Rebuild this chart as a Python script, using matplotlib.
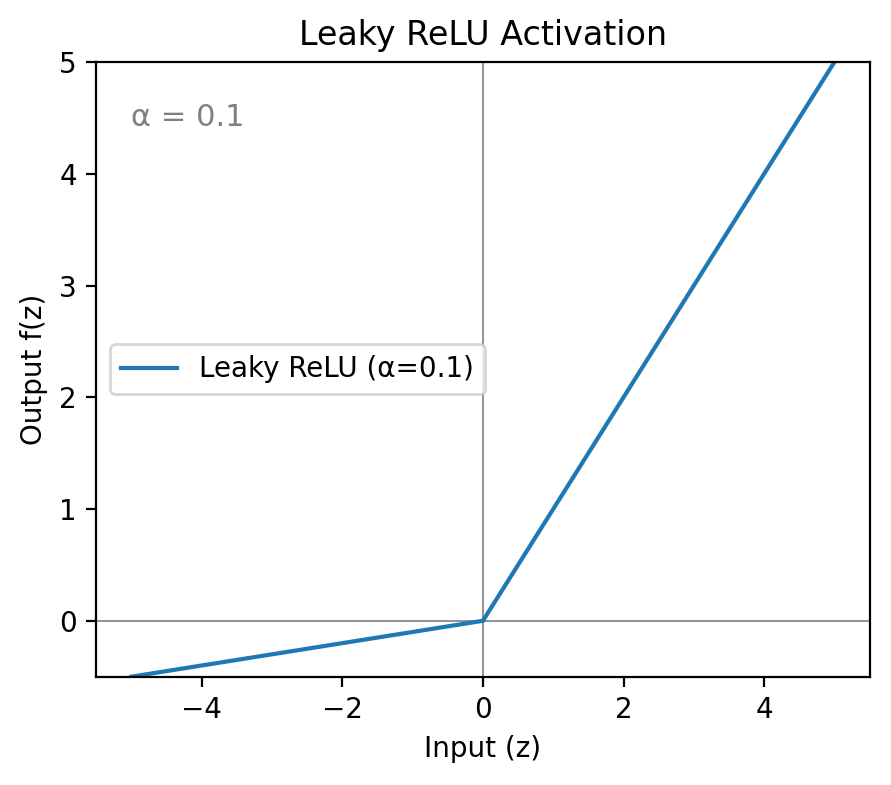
import matplotlib
matplotlib.use("Agg")
import matplotlib.pyplot as plt

# data
z = [-5.0, 0.0, 5.0]
f = [-0.5, 0.0, 5.0]
alpha = 0.1

fig = plt.figure(figsize=(8.91 / 2, 7.85 / 2), dpi=200)
ax = fig.add_axes([0.108, 0.138, 0.868, 0.783])

ax.axhline(0, color="gray", linewidth=0.6)
ax.axvline(0, color="gray", linewidth=0.6)
ax.plot(z, f, color="#1f77b4", linewidth=1.5, label="Leaky ReLU (α=0.1)")

ax.set_xlim(-5.5, 5.5)
ax.set_ylim(-0.5, 5)
ax.set_xticks([-4, -2, 0, 2, 4])
ax.set_title("Leaky ReLU Activation")
ax.set_xlabel("Input (z)")
ax.set_ylabel("Output f(z)")
ax.text(-5, 4.5, f"α = {alpha}", color="gray", fontsize=11, va="center")
ax.legend(loc="center left")

fig.savefig("out.png", dpi=200)
